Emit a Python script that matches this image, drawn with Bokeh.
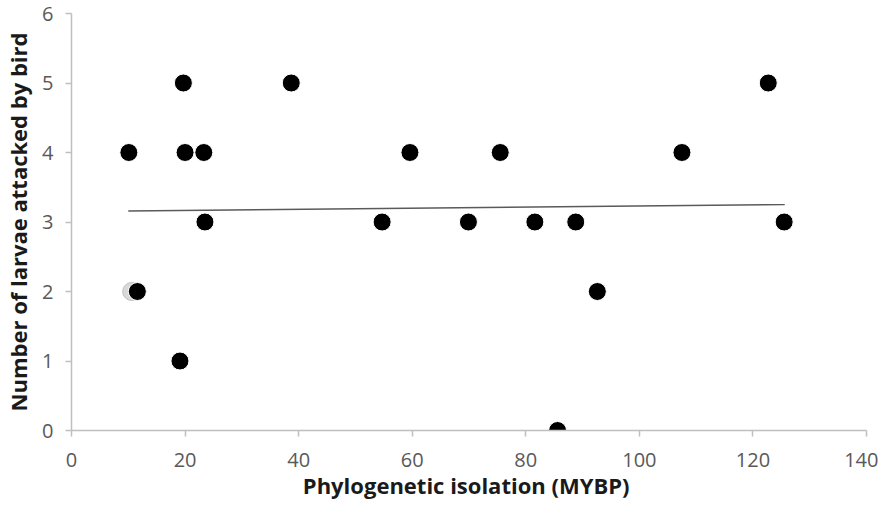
from bokeh.plotting import figure
from bokeh.models import Range1d, FixedTicker
from bokeh.embed import file_html
from bokeh.resources import INLINE

# Data
isolation_mybp = [10.1, 11.6, 19.7, 20.0, 23.3, 23.5, 19.1, 38.7, 54.7, 59.6,
                  69.9, 75.5, 81.6, 88.8, 85.6, 92.6, 107.5, 122.7, 125.5]
larvae_attacked = [4, 2, 5, 4, 4, 3, 1, 5, 3, 4,
                   3, 4, 3, 3, 0, 2, 4, 5, 3]
# point almost hidden behind the (11.6, 2) marker
hidden_x = [10.6]
hidden_y = [2]
trend_x = [10.0, 125.6]
trend_y = [3.16, 3.25]
x_ticks = [0, 20, 40, 60, 80, 100, 120, 140]
y_ticks = [0, 1, 2, 3, 4, 5, 6]

FONT = "Open Sans"

p = figure(width=878, height=502, output_backend="svg", toolbar_location=None,
           x_range=Range1d(0, 140), y_range=Range1d(0, 6),
           min_border_left=65, min_border_right=12, min_border_top=13, min_border_bottom=71)
p.outline_line_color = None
p.xgrid.grid_line_color = None
p.ygrid.grid_line_color = None
p.background_fill_color = "white"
p.border_fill_color = "white"

p.line(trend_x, trend_y, line_color="#5a5a5a", line_width=1.5)
p.scatter(hidden_x, hidden_y, size=18, fill_color="#d9d9d9", line_color="#bfbfbf", line_width=1)
p.scatter(isolation_mybp, larvae_attacked, size=18, fill_color="black",
          line_color="white", line_width=1)

for ax in (p.xaxis, p.yaxis):
    ax.axis_line_color = "#BFBFBF"
    ax.axis_line_width = 1.5
    ax.major_tick_line_color = "#BFBFBF"
    ax.major_tick_line_width = 1.5
    ax.major_tick_in = 0
    ax.major_tick_out = 6
    ax.minor_tick_line_color = None
    ax.major_label_text_font = FONT
    ax.major_label_text_font_size = "20px"
    ax.major_label_text_color = "#595959"
    ax.axis_label_text_font = FONT
    ax.axis_label_text_font_style = "bold"
    ax.axis_label_text_font_size = "22px"
    ax.axis_label_text_color = "#1a1a1a"

p.xaxis.ticker = FixedTicker(ticks=x_ticks)
p.yaxis.ticker = FixedTicker(ticks=y_ticks)
p.xaxis.major_label_standoff = 16
p.yaxis.major_label_standoff = 12
p.xaxis.axis_label = "Phylogenetic isolation  (MYBP)"
p.yaxis.axis_label = "Number of larvae attacked by bird"
p.xaxis.axis_label_standoff = 0
p.yaxis.axis_label_standoff = 6

open("out.html", "w").write(file_html(p, INLINE))
